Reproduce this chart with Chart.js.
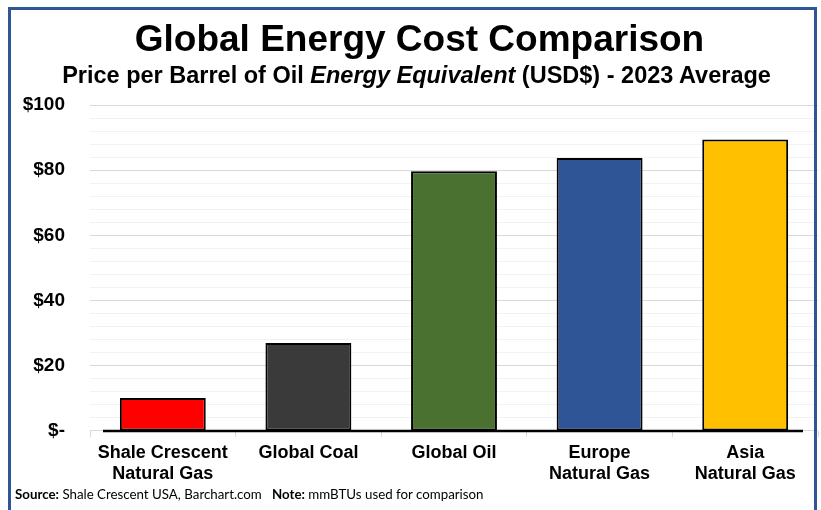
<!DOCTYPE html>
<html>
<head>
<meta charset="utf-8">
<script src="https://cdn.jsdelivr.net/npm/chart.js@4/dist/chart.umd.min.js"></script>
<style>
  html, body { margin: 0; padding: 0; background: #fff; overflow: hidden; }
  #wrap { position: relative; width: 821px; height: 510px; }
  #chart { position: absolute; left: 0; top: 0; }
  #frame {
    position: absolute; left: 8px; top: 7px; width: 803px; height: 520px;
    border: 3px solid #2F5597; border-bottom: none;
  }
  .head { position: absolute; left: 0; width: 821px; text-align: center; white-space: nowrap;
          font-family: "Liberation Sans", Arial, sans-serif; font-weight: bold; color: #000; }
  #title { top: 18px; font-size: 37px; left: 9px; }
  #subtitle { top: 62px; font-size: 23.5px; left: 6px; }
  #source { position: absolute; left: 15px; top: 486px; font-family: Lato, "Open Sans", sans-serif;
            font-size: 13.3px; color: #000; white-space: nowrap; }
</style>
</head>
<body>
<div id="wrap">
  <canvas id="chart" width="821" height="510"></canvas>
  <div id="frame"></div>
  <div class="head" id="title">Global Energy Cost Comparison</div>
  <div class="head" id="subtitle">Price per Barrel of Oil <i>Energy Equivalent</i> (USD$) - 2023 Average</div>
  <div id="source"><b>Source:</b> Shale Crescent USA, Barchart.com&nbsp;&nbsp; <b>Note:</b> mmBTUs used for comparison</div>
</div>
<script>
// 2023 average price, USD per barrel-of-oil energy equivalent
const categories = [
  ['Shale Crescent', 'Natural Gas'],
  'Global Coal',
  'Global Oil',
  ['Europe', 'Natural Gas'],
  ['Asia', 'Natural Gas']
];
const prices = [10.1, 27.0, 79.7, 83.7, 89.4];
const barColors = ['#FF0000', '#3A3A3A', '#4A7130', '#2F5597', '#FFC000'];
const yTickLabels = { 0: '$-', 20: '$20', 40: '$40', 60: '$60', 80: '$80', 100: '$100' };

// heavy black baseline at $0, inset from the plot edges
const baseline = {
  id: 'baseline',
  afterDatasetsDraw(chart) {
    const { ctx, chartArea, scales } = chart;
    const y = scales.y.getPixelForValue(0);
    ctx.save();
    ctx.strokeStyle = '#000';
    ctx.lineWidth = 2.5;
    ctx.beginPath();
    ctx.moveTo(chartArea.left + 13, y);
    ctx.lineTo(chartArea.right - 15, y);
    ctx.stroke();
    ctx.restore();
  }
};

const ctx = document.getElementById('chart').getContext('2d');
const chart = new Chart(ctx, {
  type: 'bar',
  data: {
    labels: categories,
    datasets: [{
      data: prices,
      backgroundColor: barColors,
      borderColor: '#000',
      borderWidth: 2,
      borderSkipped: false,
      barPercentage: 0.59,
      categoryPercentage: 1
    }]
  },
  options: {
    responsive: false,
    animation: false,
    layout: { padding: { top: 105, left: 22, right: 3, bottom: 19 } },
    plugins: { legend: { display: false }, tooltip: { enabled: false } },
    scales: {
      y: {
        min: 0,
        max: 100,
        afterFit: s => { s.width = 68; },
        ticks: {
          stepSize: 4,
          autoSkip: false,
          padding: 25,
          color: '#000',
          font: { family: 'Liberation Sans', size: 19, weight: 'bold' },
          callback: v => (v in yTickLabels ? yTickLabels[v] : '')
        },
        grid: {
          drawTicks: false,
          color: c => (c.tick && c.tick.value % 20 === 0 ? '#D9D9D9' : '#F2F2F2'),
          lineWidth: 1
        },
        border: { display: false }
      },
      x: {
        ticks: {
          padding: 6,
          color: '#000',
          font: { family: 'Liberation Sans', size: 18, weight: 'bold', lineHeight: 1.17 },
          maxRotation: 0
        },
        grid: {
          offset: true,
          drawOnChartArea: false,
          color: '#D9D9D9',
          tickLength: 6
        },
        border: { display: false }
      }
    }
  },
  plugins: [baseline]
});
</script>
</body>
</html>
